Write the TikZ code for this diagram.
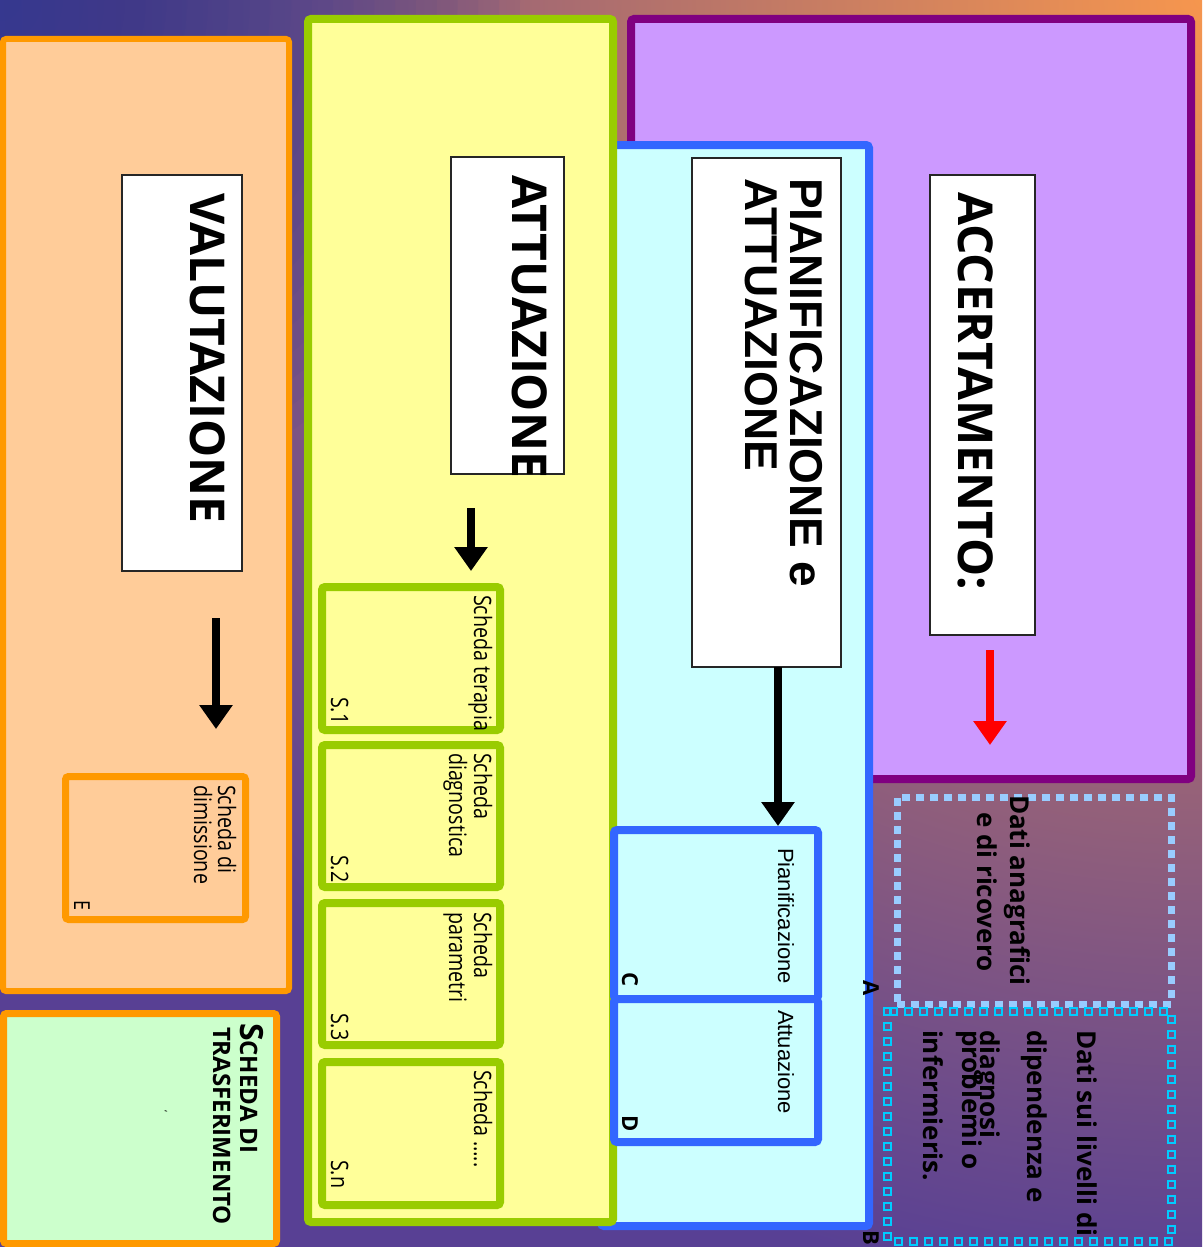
\documentclass[tikz,border=0pt]{standalone}
\usepackage{fontspec}
\setmainfont{Open Sans}
\newfontfamily\arialf{Liberation Sans}
\newfontfamily\narrowf{Open Sans}[FakeStretch=0.82]
\usetikzlibrary{arrows.meta,decorations.markings}
\definecolor{bgbase}{RGB}{88,64,148}
\definecolor{bgorange}{RGB}{246,150,78}
\definecolor{bgblue}{RGB}{48,56,152}
\definecolor{orbrd}{HTML}{FF9900}
\definecolor{orfill}{HTML}{FFCC99}
\definecolor{grbrd}{HTML}{99CC00}
\definecolor{grfill}{HTML}{FFFF99}
\definecolor{pubrd}{HTML}{800080}
\definecolor{pufill}{HTML}{CC99FF}
\definecolor{blbrd}{HTML}{3366FF}
\definecolor{blfill}{HTML}{CCFFFF}
\definecolor{mintfill}{HTML}{CCFFCC}
\definecolor{dotlb}{HTML}{99CCFF}
\definecolor{dotcy}{HTML}{00CCFF}
\newcommand{\fsz}[1]{\fontsize{#1}{#1}\selectfont}
\tikzset{
 panel/.style={rectangle, rounded corners=3pt, inner sep=0pt, line width=8pt},
 titlebox/.style={rectangle, draw=black!85, fill=white, line width=1.2pt, inner sep=0pt},
 txt/.style={rotate=-90, anchor=base west, inner sep=0pt, outer sep=0pt, text=black},
 bigarrow/.style={line width=8pt, -{Triangle[width=32pt,length=24pt]}},
 bigtitle/.style={font=\fsz{48}\bfseries},
 pititle/.style={font=\arialf\fsz{46}\bfseries},
 small/.style={font=\narrowf\fsz{24}},
 arsmall/.style={font=\arialf\fsz{22}},
 lab/.style={font=\fsz{22}\bfseries},
 dati/.style={font=\fsz{26}\bfseries},
}
\begin{document}
\begin{tikzpicture}[x=1pt,y=-1pt]
\useasboundingbox (0,0) rectangle (1202,1247);
% background
\begin{scope}
\clip (0,0) rectangle (1202,1247);
\fill[bgbase] (0,0) rectangle (1202,1247);
\shade[inner color=bgorange, outer color=bgbase] (1202,0) circle (1300pt);
\foreach \i in {0,...,24}{
  \pgfmathsetmacro{\rr}{520*(1-\i/25)}
  \fill[bgblue, fill opacity=0.06] (0,0) circle (\rr pt);
}
\end{scope}

% big panels
\node[panel, draw=pubrd, fill=pufill, minimum width=560pt, minimum height=760pt] (acc) at (911,399) {};
\node[panel, draw=blbrd, fill=blfill, minimum width=268pt, minimum height=1081pt] (pia) at (735,685.5) {};
\node[panel, draw=grbrd, fill=grfill, minimum width=305pt, minimum height=1203pt] (att) at (460.5,620.5) {};
\node[panel, draw=orbrd, fill=orfill, line width=6pt, minimum width=286pt, minimum height=952pt] (val) at (146,515) {};
\node[panel, draw=orbrd, fill=mintfill, line width=7pt, minimum width=273pt, minimum height=230pt] (tras) at (140,1128.5) {};

% title boxes
\node[titlebox, minimum width=120pt, minimum height=396pt] (valbox) at (182,373) {};
\node[titlebox, minimum width=113pt, minimum height=317pt] (attbox) at (507.5,315.5) {};
\node[titlebox, minimum width=149pt, minimum height=509pt] (piabox) at (766.5,412.5) {};
\node[titlebox, minimum width=105pt, minimum height=460pt] (accbox) at (982.5,405) {};

\node[txt, bigtitle] (valt) at (190,193) {VALUTAZIONE};
\node[txt, bigtitle] (attt) at (512,175) {ATTUAZIONE};
\node[txt, bigtitle] (acct) at (958,192) {ACCERTAMENTO:};
\node[txt, pititle] (piat1) at (790,178) {PIANIFICAZIONE e};
\node[txt, pititle] (piat2) at (745,178) {ATTUAZIONE};

% sub boxes in ATTUAZIONE
\node[panel, draw=grbrd, fill=grfill, minimum width=178pt, minimum height=143pt] (s1) at (411,658.5) {};
\node[panel, draw=grbrd, fill=grfill, minimum width=178pt, minimum height=142pt] (s2) at (411,816) {};
\node[panel, draw=grbrd, fill=grfill, minimum width=178pt, minimum height=142pt] (s3) at (411,974) {};
\node[panel, draw=grbrd, fill=grfill, minimum width=178pt, minimum height=143pt] (sn) at (411,1133.5) {};
\node[txt, small] (s1a) at (474,595) {Scheda terapia};
\node[txt, small] (s2a) at (474,753) {Scheda};
\node[txt, small] (s2b) at (449,753) {diagnostica};
\node[txt, small] (s3a) at (474,912) {Scheda};
\node[txt, small] (s3b) at (449,912) {parametri};
\node[txt, small] (sna) at (474,1070) {Scheda …..};
\node[txt, small] (s1l) at (331,697) {S.1};
\node[txt, small] (s2l) at (331,855) {S.2};
\node[txt, small] (s3l) at (331,1013) {S.3};
\node[txt, small] (snl) at (331,1160) {S.n};

% E box
\node[panel, draw=orbrd, fill=orfill, line width=7pt, minimum width=180pt, minimum height=143pt] (ebox) at (155.5,848) {};
\node[txt, small] (ea) at (218,785) {Scheda di};
\node[txt, small] (eb) at (194,785) {dimissione};
\node[txt, font=\narrowf\fsz{22}] (el) at (74,900) {E};

% C / D boxes
\node[panel, draw=blbrd, fill=blfill, minimum width=204pt, minimum height=169pt] (cbox) at (716,914.5) {};
\node[panel, draw=blbrd, fill=blfill, minimum width=204pt, minimum height=143pt] (dbox) at (716,1070.5) {};
\node[txt, arsmall] (ct) at (778,848) {Pianificazione};
\node[txt, arsmall] (dt) at (778,1010) {Attuazione};
\node[txt, lab] (cl) at (622,972) {C};
\node[txt, lab] (dl) at (622,1115) {D};
\node[txt, lab] (al) at (863,980) {A};
\node[txt, lab] (bl) at (863,1230) {B};

% dotted boxes
\node[rectangle, draw=dotlb, line width=7pt, dash pattern=on 8pt off 6pt, minimum width=274pt, minimum height=207pt, inner sep=0pt] (dot1) at (1034,900.5) {};
\node[rectangle, minimum width=283pt, minimum height=229pt, inner sep=0pt] (dot2) at (1029.5,1126.5) {};
\path[decorate, decoration={markings, mark=between positions 0 and 1 step 15pt with {\draw[dotcy, line width=2pt] (-3.5pt,-3.5pt) rectangle (3.5pt,3.5pt);}}]
  (dot2.north west) rectangle (dot2.south east);
\node[txt, dati] (d1a) at (1010,795) {Dati anagrafici};
\node[txt, dati] (d1b) at (977,812) {e di ricovero};
\node[txt, dati] (d2a) at (1077,1030) {Dati sui livelli di};
\node[txt, dati] (d2b) at (1027,1030) {dipendenza e};
\node[txt, dati] (d2c) at (980,1030) {diagnosi};
\node[txt, dati] (d2d) at (962,1030) {problemi o};
\node[txt, dati] (d2e) at (923,1030) {infermieris.};

% transfer text
\node[txt, font=\bfseries] (tra) at (240,1023) {{\fsz{32}S}{\fsz{24}CHEDA DI}};
\node[txt, font=\fsz{24}\bfseries] (trb) at (213,1027) {TRASFERIMENTO};
\node[txt, font=\fsz{10}] (tmark) at (160,1110) {‘};

% arrows
\coordinate (a1s) at (216,618); \coordinate (a1e) at (216,729);
\coordinate (a2s) at (471,508); \coordinate (a2e) at (471,571);
\coordinate (a3s) at (778,667); \coordinate (a3e) at (778,826);
\coordinate (a4s) at (990,650); \coordinate (a4e) at (990,745);
\draw[bigarrow, black] (a1s) -- (a1e);
\draw[bigarrow, black] (a2s) -- (a2e);
\draw[bigarrow, black] (a3s) -- (a3e);
\draw[bigarrow, red] (a4s) -- (a4e);
\end{tikzpicture}
\end{document}
